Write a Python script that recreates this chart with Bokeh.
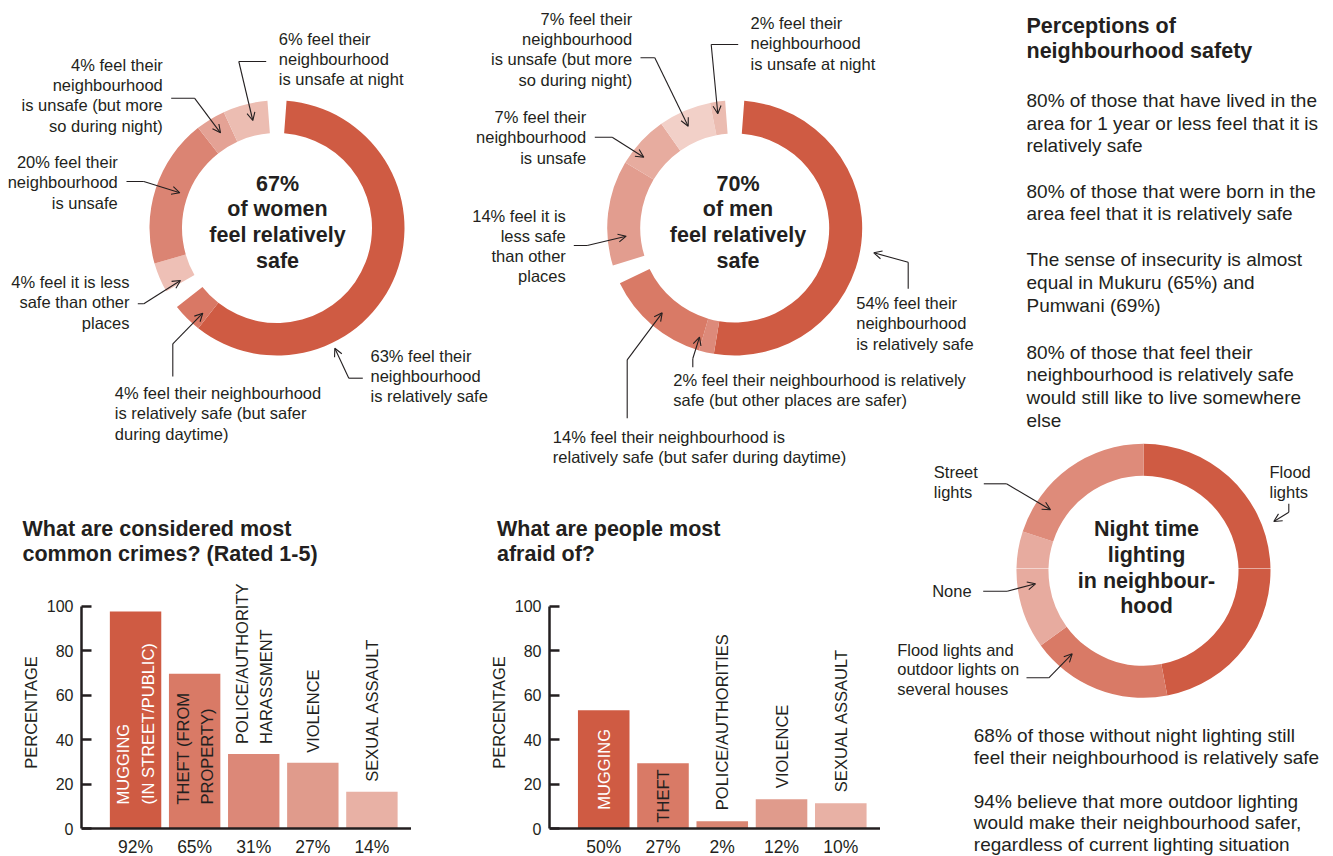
import math
from bokeh.plotting import figure
from bokeh.models import Range1d, FixedTicker, Arrow, OpenHead
from bokeh.layouts import column, row
from bokeh.core.properties import value
from bokeh.embed import file_html
from bokeh.resources import INLINE

# ---------------- data ----------------
women_values = [63, 4, 4, 20, 4, 6]          # clockwise from 12 o'clock
women_safe_share = "67%"
men_values = [54, 2, 14, 14, 7, 7, 2]        # clockwise from 12 o'clock
men_safe_share = "70%"

lighting_categories = ["Flood lights", "Flood lights and outdoor lights on several houses",
                       "None", "Street lights"]
lighting_values = [47, 18, 15, 20]

crime_categories = ["MUGGING\n(IN STREET/PUBLIC)", "THEFT (FROM\nPROPERTY)",
                    "POLICE/AUTHORITY\nHARASSMENT", "VIOLENCE", "SEXUAL ASSAULT"]
crime_bar_heights = [97.5, 69.5, 33.5, 29.5, 16.5]
crime_tick_labels = ["92%", "65%", "31%", "27%", "14%"]

fear_categories = ["MUGGING", "THEFT", "POLICE/AUTHORITIES", "VIOLENCE", "SEXUAL ASSAULT"]
fear_bar_heights = [53.2, 29.3, 3.3, 13.2, 11.4]
fear_tick_labels = ["50%", "27%", "2%", "12%", "10%"]

y_ticks = [0, 20, 40, 60, 80, 100]

# ---------------- styles ----------------
FONT = "Liberation Sans"
INK = "#231f20"
DARK = "#cf5b43"
women_colors = [DARK, "#d97865", "#eec0b6", "#db8473", "#e4a295", "#ecbdb2"]
men_colors = [DARK, "#dd8a7a", "#d97a66", "#e29d8f", "#e7ac9f", "#f2d0c8", "#ebbcb1"]
lighting_colors = [DARK, "#d97a66", "#e7ab9f", "#de8b7a"]
crime_colors = [DARK, "#d97a66", "#dc8878", "#e09b8c", "#e8b1a5"]
fear_colors = [DARK, "#d97a66", "#d98572", "#e09b8c", "#e8b1a5"]

W, H = 1333, 856
SPLIT = 568
AXIS_Y = 828
PPU = 2.225


def Y(py):
    return H - py


def canvas(x0, x1, y0, y1):
    p = figure(width=x1 - x0, height=y1 - y0, x_range=Range1d(x0, x1),
               y_range=Range1d(Y(y1), Y(y0)), output_backend="svg",
               toolbar_location=None, tools="", x_axis_location=None,
               y_axis_location=None, min_border=0, outline_line_color=None)
    p.grid.visible = False
    return p


def lines(p, x, y0, texts, size=16.5, step=20.2, align="left", bold=False):
    ys = [Y(y0 + i * step) for i in range(len(texts))]
    p.text(x=[x] * len(texts), y=ys, text=texts, text_align=align,
           text_baseline="middle", text_font=value(FONT),
           text_font_size=f"{size}px",
           text_font_style="bold" if bold else "normal", text_color=INK)


def pointer(p, pts):
    xs = [a for a, b in pts]
    ys = [Y(b) for a, b in pts]
    p.line(xs[:-1], ys[:-1], line_color=INK, line_width=1.1)
    p.add_layout(Arrow(end=OpenHead(size=8, line_color=INK, line_width=1.1),
                       x_start=xs[-2], y_start=ys[-2], x_end=xs[-1], y_end=ys[-1],
                       line_color=INK, line_width=1.1))


def donut(p, cx, cy, r_in, r_out, values, colors, breaks, gap):
    n_gaps = (len(breaks) + 1) if gap else 0
    scale = (360 - gap * n_gaps) / sum(values)
    theta = gap / 2
    starts, ends = [], []
    for i, v in enumerate(values):
        t0, t1 = theta, theta + v * scale
        starts.append(math.radians(90 - t1))
        ends.append(math.radians(90 - t0))
        theta = t1 + (gap if i in breaks else 0)
    n = len(values)
    p.annular_wedge(x=[cx] * n, y=[Y(cy)] * n, inner_radius=r_in, outer_radius=r_out,
                    start_angle=starts, end_angle=ends, fill_color=colors,
                    line_color=None)


# ---------------- top canvas ----------------
top = canvas(0, W, 0, SPLIT)
rb = canvas(880, W, SPLIT, H)

# women donut
donut(top, 276.5, 227.5, 95, 127.5, women_values, women_colors, [1], 8.6)
lines(top, 277, 183, [women_safe_share, "of women", "feel relatively", "safe"],
      size=21.5, step=25.8, align="center", bold=True)
lines(top, 278.3, 38.5, ["6% feel their", "neighbourhood", "is unsafe at night"])
pointer(top, [(265.7, 61), (238.3, 61), (252.3, 120)])
lines(top, 162.3, 64.5, ["4% feel their", "neighbourhood", "is unsafe (but more", "so during night)"],
      align="right")
pointer(top, [(170.7, 97.7), (194, 97.7), (220, 132.3)])
lines(top, 117.3, 161.7, ["20% feel their", "neighbourhood", "is unsafe"], align="right")
pointer(top, [(126, 181), (143.3, 181), (179.3, 192.3)])
lines(top, 129, 281.7, ["4% feel it is less", "safe than other", "places"], align="right")
pointer(top, [(137.3, 303.3), (143.3, 303.3), (180, 280)])
lines(top, 114.3, 392.7, ["4% feel their neighbourhood", "is relatively safe (but safer",
                          "during daytime)"])
pointer(top, [(172.3, 376), (172.3, 343.3), (202.3, 312.7)])
lines(top, 370, 355, ["63% feel their", "neighbourhood", "is relatively safe"])
pointer(top, [(362.3, 377.7), (348.3, 377.7), (334.3, 347.7)])

# men donut
donut(top, 734.2, 227.5, 94.5, 127.5, men_values, men_colors, [2], 8.6)
lines(top, 737.5, 183, [men_safe_share, "of men", "feel relatively", "safe"],
      size=21.5, step=25.8, align="center", bold=True)
lines(top, 631.7, 18.5, ["7% feel their", "neighbourhood", "is unsafe (but more", "so during night)"],
      align="right")
pointer(top, [(640, 57.3), (654.3, 57.3), (687.7, 125.7)])
lines(top, 750, 22.7, ["2% feel their", "neighbourhood", "is unsafe at night"])
pointer(top, [(737.7, 44), (710.7, 44), (717.3, 113.3)])
lines(top, 585.7, 116.7, ["7% feel their", "neighbourhood", "is unsafe"], align="right")
pointer(top, [(594.3, 136.7), (611.7, 136.7), (643.3, 156.7)])
lines(top, 565.3, 215, ["14% feel it is", "less safe", "than other", "places"], align="right")
pointer(top, [(573.3, 245), (586.7, 245), (625.7, 235.7)])
lines(top, 855.7, 302.7, ["54% feel their", "neighbourhood", "is relatively safe"])
pointer(top, [(907.7, 288.3), (907.7, 261.7), (873.3, 252.3)])
lines(top, 672.7, 379, ["2% feel their neighbourhood is relatively",
                        "safe (but other places are safer)"])
pointer(top, [(692.3, 366.7), (692.3, 358), (699, 336.7)])
lines(top, 552.3, 436.7, ["14% feel their neighbourhood is",
                          "relatively safe (but safer during daytime)"])
pointer(top, [(626.7, 417.7), (626.7, 359.3), (661.7, 312.3)])

# right column text
lines(top, 1026, 25, ["Perceptions of", "neighbourhood safety"], size=21.5, step=25, bold=True)
lines(top, 1026, 100, ["80% of those that have lived in the", "area for 1 year or less feel that it is",
                       "relatively safe"], size=19, step=22.6)
lines(top, 1026, 190.7, ["80% of those that were born in the",
                         "area feel that it is relatively safe"], size=19, step=22.6)
lines(top, 1026, 259.3, ["The sense of insecurity is almost", "equal in Mukuru (65%) and",
                         "Pumwani (69%)"], size=19, step=22.6)
lines(top, 1026, 351.7, ["80% of those that feel their", "neighbourhood is relatively safe",
                         "would still like to live somewhere", "else"], size=19, step=22.6)

# bar chart titles
lines(top, 22, 528.3, ["What are considered most", "common crimes? (Rated 1-5)"],
      size=21.5, step=25, bold=True)
lines(top, 496.5, 528.3, ["What are people most", "afraid of?"], size=21.5, step=25, bold=True)

# lighting donut (split over the two canvases)
for cv in (top, rb):
    donut(cv, 1143, 570.3, 95, 127, lighting_values, lighting_colors, [], 0)
lines(top, 1146, 528.3, ["Night time", "lighting"], size=21.5, step=25.8, align="center", bold=True)
lines(rb, 1146, 580, ["in neighbour-", "hood"], size=21.5, step=25.8, align="center", bold=True)
lines(top, 933.3, 471.7, ["Street", "lights"], step=20)
pointer(top, [(983.3, 483.3), (1006, 483.3), (1050, 509.3)])
lines(top, 1269, 471.7, ["Flood", "lights"], step=20)
pointer(top, [(1288.3, 503.3), (1288.3, 511.7), (1273.3, 521)])
lines(rb, 931.7, 590.7, [lighting_categories[2]])
pointer(rb, [(982.7, 590.7), (1006.7, 590.7), (1035, 583.3)])
lines(rb, 896.7, 649, ["Flood lights and", "outdoor lights on", "several houses"], step=19.7)
pointer(rb, [(1026, 677.3), (1048.3, 677.3), (1071.7, 653.3)])

lines(rb, 973.3, 735, ["68% of those without night lighting still",
                       "feel their neighbourhood is relatively safe"], size=19, step=21.8)
lines(rb, 973.3, 801, ["94% believe that more outdoor lighting",
                       "would make their neighbourhood safer,",
                       "regardless of current lighting situation"], size=19, step=21.4)


# ---------------- bar charts ----------------
def bar_chart(width, axis_left, cats, heights, ticks, colors, centered_inside, out_gap):
    p = figure(width=width, height=H - SPLIT, x_range=Range1d(-0.915, 4.67),
               y_range=Range1d(-(H - AXIS_Y) / PPU, (AXIS_Y - SPLIT) / PPU),
               output_backend="svg",
               toolbar_location=None, tools="", min_border_left=axis_left,
               min_border_right=0, min_border_top=0, min_border_bottom=0,
               outline_line_color=None)
    p.grid.visible = False
    idx = list(range(len(cats)))
    p.vbar(x=idx, top=heights, bottom=0, width=0.87, fill_color=colors, line_color=None)

    inside = idx[:2]
    outside = idx[2:]
    if centered_inside:
        p.text(x=inside, y=[heights[i] / 2 for i in inside], text=[cats[i] for i in inside],
               angle=math.pi / 2, text_align="center", text_baseline="middle",
               text_font=value(FONT), text_font_size="16.5px", text_line_height=1.35,
               text_color=["white", INK])
    else:
        p.text(x=inside, y=[24 / PPU] * len(inside), text=[cats[i] for i in inside],
               angle=math.pi / 2, text_align="left", text_baseline="middle",
               text_font=value(FONT), text_font_size="16.5px", text_line_height=1.35,
               text_color=["white", INK])
    p.text(x=outside, y=[heights[i] + out_gap / PPU for i in outside],
           text=[cats[i] for i in outside], angle=math.pi / 2, text_align="left",
           text_baseline="middle", text_font=value(FONT), text_font_size="16.5px",
           text_line_height=1.35, text_color=INK)

    xa = p.xaxis[0]
    xa.fixed_location = 0
    xa.ticker = FixedTicker(ticks=idx)
    xa.major_label_overrides = {i: t for i, t in zip(idx, ticks)}
    xa.major_tick_in = 0
    xa.major_tick_out = 0
    xa.minor_tick_line_color = None
    xa.major_label_standoff = 8

    ya = p.yaxis[0]
    ya.ticker = FixedTicker(ticks=y_ticks)
    ya.bounds = (0, 100)
    ya.major_tick_in = 10
    ya.major_tick_out = 0
    ya.minor_tick_line_color = None
    ya.major_label_standoff = 8
    ya.axis_label = "PERCENTAGE"
    ya.axis_label_standoff = 4
    ya.axis_label_text_font = FONT
    ya.axis_label_text_font_size = "16.5px"
    ya.axis_label_text_font_style = "normal"
    ya.axis_label_text_color = INK

    for ax in (xa, ya):
        ax.axis_line_width = 2.5
        ax.axis_line_color = INK
        ax.major_tick_line_width = 2.5
        ax.major_tick_line_color = INK
        ax.major_label_text_font = FONT
        ax.major_label_text_color = INK
    xa.major_label_text_font_size = "17.5px"
    ya.major_label_text_font_size = "16px"
    return p


bar1 = bar_chart(411, 81, crime_categories, crime_bar_heights, crime_tick_labels,
                 crime_colors, False, 10)
bar2 = bar_chart(469, 138, fear_categories, fear_bar_heights, fear_tick_labels,
                 fear_colors, True, 11)

layout = column(top, row(bar1, bar2, rb, spacing=0), spacing=0)

with open("out.html", "w") as f:
    f.write(file_html(layout, INLINE, title="Perceptions of neighbourhood safety"))
